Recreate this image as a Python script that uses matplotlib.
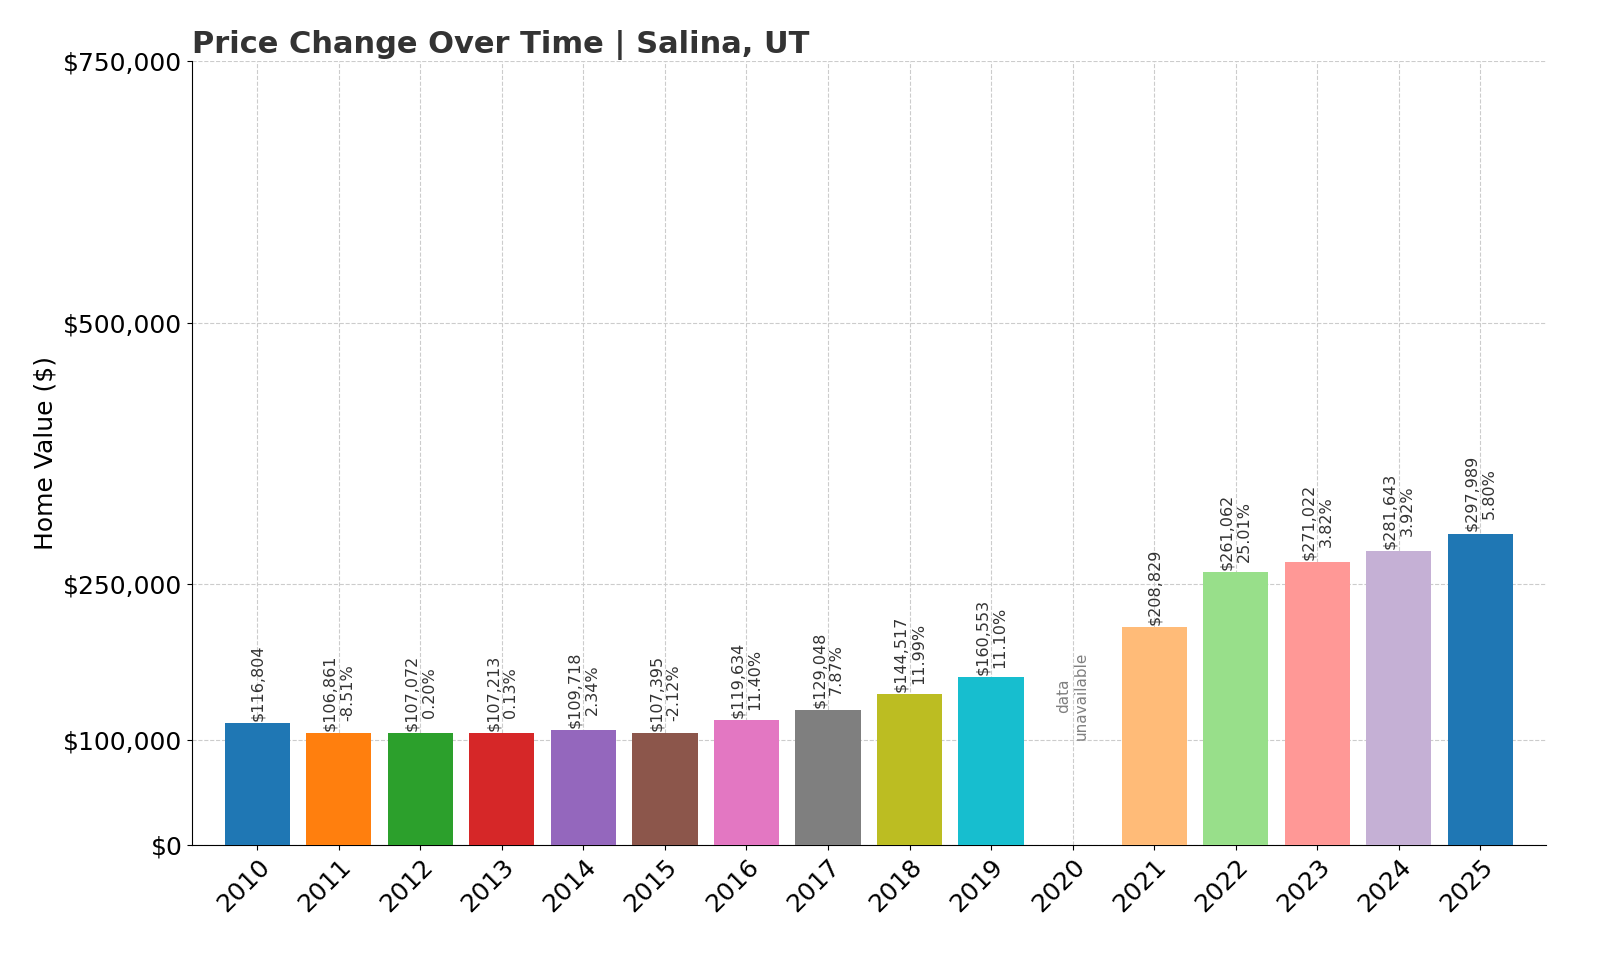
import matplotlib
matplotlib.use("Agg")
import matplotlib.pyplot as plt
import numpy as np

years = [str(y) for y in range(2010, 2026)]
values = [116804, 106861, 107072, 107213, 109718, 107395, 119634, 129048,
          144517, 160553, None, 208829, 261062, 271022, 281643, 297989]
pct_labels = [None, "-8.51%", "0.20%", "0.13%", "2.34%", "-2.12%", "11.40%", "7.87%",
              "11.99%", "11.10%", None, None, "25.01%", "3.82%", "3.92%", "5.80%"]
colors = ["#1f77b4", "#ff7f0e", "#2ca02c", "#d62728", "#9467bd", "#8c564b",
          "#e377c2", "#7f7f7f", "#bcbd22", "#17becf", "#ffffff", "#ffbb78",
          "#98df8a", "#ff9896", "#c5b0d5", "#1f77b4"]
yticks = [0, 100000, 250000, 500000, 750000]

fig, ax = plt.subplots(figsize=(16, 9.6), dpi=100)
fig.subplots_adjust(left=0.12, right=0.966, top=0.936, bottom=0.12)

x = np.arange(len(years))
for i, v in enumerate(values):
    if v is None:
        ax.text(i, 100000, "data\nunavailable", rotation=90, ha="center", va="bottom",
                fontsize=11, color="gray", linespacing=1.2)
        continue
    ax.bar(i, v, color=colors[i], width=0.8, zorder=3)
    label = f"${v:,}" if pct_labels[i] is None else f"${v:,}\n{pct_labels[i]}"
    ax.text(i, v + 2000, label, rotation=90, ha="center", va="bottom",
            fontsize=11.5, color="#333333", linespacing=1.2)

ax.set_ylim(0, 750000)
ax.set_xlim(-0.8, 15.8)
ax.set_yticks(yticks)
ax.set_yticklabels([f"${t:,}" for t in yticks], fontsize=18)
ax.set_xticks(x)
ax.set_xticklabels(years, rotation=45, ha="right", rotation_mode="anchor", fontsize=18)
ax.set_ylabel("Home Value ($)", fontsize=18)
ax.set_title("Price Change Over Time | Salina, UT", loc="left", fontsize=22,
             fontweight="bold", color="#333333")
ax.grid(True, linestyle="--", color="#cccccc", zorder=0)
for s in ["top", "right"]:
    ax.spines[s].set_visible(False)

plt.savefig("out.png", dpi=100)
